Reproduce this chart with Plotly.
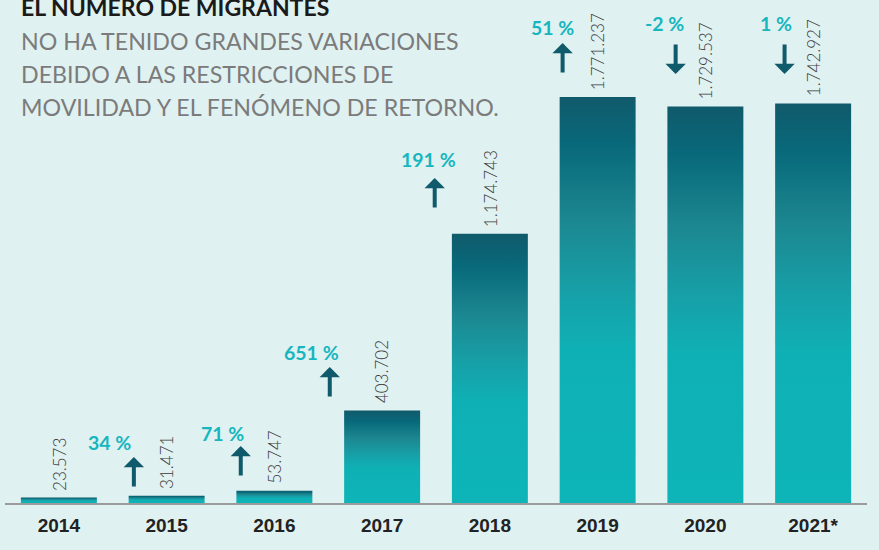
import plotly.graph_objects as go

# ---- data ----
years = ["2014", "2015", "2016", "2017", "2018", "2019", "2020", "2021*"]
migrants = [23573, 31471, 53747, 403702, 1174743, 1771237, 1729537, 1742927]
pct_labels = ["34 %", "71 %", "651 %", "191 %", "51 %", "-2 %", "1 %"]   # change vs previous year (bars 2015..2021)
pct_direction = ["up", "up", "up", "up", "up", "down", "down"]

title_text = "EL NÚMERO DE MIGRANTES"
subtitle_lines = ["NO HA TENIDO GRANDES VARIACIONES",
                  "DEBIDO A LAS RESTRICCIONES DE",
                  "MOVILIDAD Y EL FENÓMENO DE RETORNO."]

# ---- style / layout ----
BG = "#e0f1f1"
DARK = "#0f5a6b"
TEAL_TXT = "#17b6bf"
W, H = 879, 550
M_L, M_R, M_T, M_B = 5, 12, 0, 47
PLOT_H = H - M_T - M_B
Y_MAX = 2194600
half_w = 0.3525

gradient = [[0.0, "#0db5b8"], [0.38, "#0fb0b5"], [0.52, "#17a0a8"],
            [0.70, "#1c8790"], [0.88, "#08697a"], [1.0, "#105a6b"]]


def fmt(v):
    return f"{v:,}".replace(",", ".")


def py_to_paper(py):
    return (PLOT_H + M_T - py) / PLOT_H


fig = go.Figure()

for i, (yr, v) in enumerate(zip(years, migrants)):
    fig.add_trace(go.Scatter(
        x=[i - half_w, i + half_w, i + half_w, i - half_w, i - half_w],
        y=[0, 0, v, v, 0],
        mode="lines", line=dict(width=0, color=DARK),
        fill="toself",
        fillgradient=dict(type="vertical", colorscale=gradient),
        hoverinfo="text", hovertext=f"{yr}: {fmt(v)}",
        showlegend=False,
    ))
    fig.add_annotation(
        x=i, y=v, xref="x", yref="y", text=fmt(v), textangle=-90,
        showarrow=False, xanchor="center", yanchor="bottom", yshift=5,
        font=dict(family="Lato", size=17, color="#3a3a3a", weight=300),
    )

# percentage labels and arrows (pixel-derived layout offsets)
txt_dx = [-0.527, -0.479, -0.653, -0.568, -0.417, -0.378, -0.340]
txt_py = [442, 433, 352, 160, 27, 23, 23]
arr_dx = [-0.304, -0.312, -0.486, -0.512, -0.325, -0.276, -0.265]
arr_top = [457, 446, 367, 178, 43, 43, 43]
ARR_LEN = 31

for k, (lab, d) in enumerate(zip(pct_labels, pct_direction)):
    i = k + 1
    fig.add_annotation(
        x=i + txt_dx[k], y=py_to_paper(txt_py[k]), xref="x", yref="paper",
        text=lab, showarrow=False, xanchor="center", yanchor="middle",
        font=dict(family="Lato", size=19.5, color=TEAL_TXT, weight=700),
    )
    if d == "up":
        tip_py, ay = arr_top[k], ARR_LEN
    else:
        tip_py, ay = arr_top[k] + ARR_LEN, -ARR_LEN
    fig.add_annotation(
        x=i + arr_dx[k], y=py_to_paper(tip_py), xref="x", yref="paper",
        text="", showarrow=True, ax=0, ay=ay, axref="pixel", ayref="pixel",
        arrowhead=1, arrowsize=0.85, arrowwidth=4, arrowcolor=DARK,
    )

# title block
TX = (19 - M_L) / (W - M_L - M_R)
fig.add_annotation(
    x=TX, y=py_to_paper(23), xref="paper", yref="paper",
    text=f"<b>{title_text}</b>", showarrow=False, xanchor="left", yanchor="bottom",
    font=dict(family="Lato", size=23, color="#1a1a1a"),
)
for j, line in enumerate(subtitle_lines):
    fig.add_annotation(
        x=TX, y=py_to_paper(25 + 33 * j), xref="paper", yref="paper",
        text=line, showarrow=False, xanchor="left", yanchor="top", align="left",
        font=dict(family="Lato", size=23.2, color="#7b7b7b"),
    )

fig.update_layout(
    width=W, height=H,
    margin=dict(l=M_L, r=M_R, t=M_T, b=M_B),
    paper_bgcolor=BG, plot_bgcolor=BG,
    xaxis=dict(range=[-0.5, 7.5], tickvals=list(range(len(years))), ticktext=years,
               showgrid=False, zeroline=False, showline=True, linecolor="#9b9b9b",
               linewidth=1.5, ticks="", ticklabelstandoff=4,
               tickfont=dict(family="Liberation Sans", size=19, color="#222222", weight=700),
               fixedrange=True),
    yaxis=dict(range=[0, Y_MAX], visible=False, fixedrange=True),
    showlegend=False,
)

fig.write_html(
    "out.html",
    config={"displayModeBar": False},
    post_script="document.body.style.margin='0';document.body.style.overflow='hidden';"
                "document.body.style.background='" + BG + "';",
)
